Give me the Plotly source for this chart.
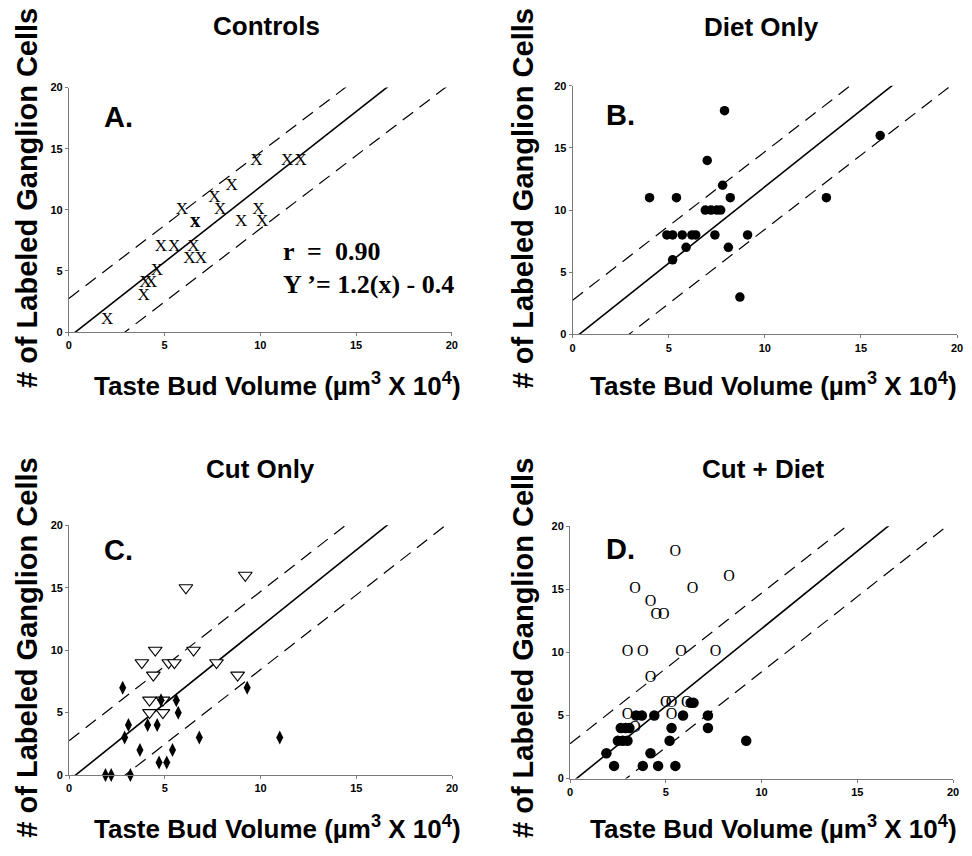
import plotly.graph_objects as go

# ---------------- data ----------------
# Panel A: Controls
a_x = [2.0, 3.9, 4.0, 4.3, 4.6, 4.8, 5.5, 6.5, 6.3, 6.9, 5.9, 7.6, 7.9, 8.5, 9.8, 11.4, 12.1, 9.0, 9.9, 10.1]
a_y = [1, 3, 4, 4, 5, 7, 7, 7, 6, 6, 10, 11, 10, 12, 14, 14, 14, 9, 10, 9]
a_bold_x = [6.6]
a_bold_y = [9]

# Panel B: Diet Only
b_x = [7.9, 7.0, 7.8, 4.0, 5.4, 8.2, 6.9, 7.2, 7.5, 7.7, 4.9, 5.2, 5.7, 6.2, 6.4, 7.4, 9.1,
       5.9, 8.1, 5.2, 8.7, 13.2, 16.0]
b_y = [18, 14, 12, 11, 11, 11, 10, 10, 10, 10, 8, 8, 8, 8, 8, 8, 8, 7, 7, 6, 3, 11, 16]

# Panel C: Cut Only
c_tri_x = [9.2, 6.1, 4.5, 6.5, 3.8, 5.2, 5.5, 7.7, 4.4, 8.8, 4.2, 4.9, 4.2, 4.9]
c_tri_y = [16, 15, 10, 10, 9, 9, 9, 9, 8, 8, 6, 6, 5, 5]
c_dia_x = [2.8, 9.3, 4.8, 5.6, 5.7, 3.1, 4.1, 4.6, 2.9, 6.8, 11.0, 3.7, 5.4, 4.7, 5.1, 1.9, 2.2, 3.2]
c_dia_y = [7, 7, 6, 6, 5, 4, 4, 4, 3, 3, 3, 2, 2, 1, 1, 0, 0, 0]

# Panel D: Cut + Diet
d_open_x = [5.5, 8.3, 3.4, 6.4, 4.2, 4.5, 4.9, 3.0, 3.8, 5.8, 7.6, 4.2, 5.0, 5.3, 6.1, 3.0, 5.3, 3.4]
d_open_y = [18, 16, 15, 15, 14, 13, 13, 10, 10, 10, 10, 8, 6, 6, 6, 5, 5, 4]
d_fill_x = [6.3, 6.45, 3.45, 3.75, 4.4, 5.9, 7.2, 2.65, 2.9, 3.1, 5.3, 7.2, 2.5, 2.75, 3.0, 5.2,
            9.2, 1.9, 4.2, 2.3, 3.8, 4.6, 5.5]
d_fill_y = [6, 6, 5, 5, 5, 5, 5, 4, 4, 4, 4, 4, 3, 3, 3, 3, 3, 2, 2, 1, 1, 1, 1]

# regression line and prediction band (Y' = 1.2(x) - 0.4)
line_x = [0, 20]
solid_slope, solid_int = 1.23, -0.42
band_slope, upper_int, lower_int = 1.195, 2.75, -3.5

panel_titles = ["Controls", "Diet Only", "Cut Only", "Cut + Diet"]
panel_letters = ["A.", "B.", "C.", "D."]
tick_vals = [0, 5, 10, 15, 20]
x_title = "Taste Bud Volume (µm<sup>3</sup> X 10<sup>4</sup>)"
y_title = "# of Labeled Ganglion Cells"

SANS = "Liberation Sans, Arial, Helvetica, sans-serif"
SERIF = "Liberation Serif, Times New Roman, serif"

fig = go.Figure()

axes = [("x", "y"), ("x2", "y2"), ("x3", "y3"), ("x4", "y4")]

# lines in each panel
for xa, ya in axes:
    fig.add_trace(go.Scatter(x=line_x, y=[solid_slope * v + solid_int for v in line_x],
                             mode="lines", line=dict(color="black", width=1.6),
                             xaxis=xa, yaxis=ya, hoverinfo="skip"))
    for b in (upper_int, lower_int):
        fig.add_trace(go.Scatter(x=line_x, y=[band_slope * v + b for v in line_x],
                                 mode="lines", line=dict(color="black", width=1.2, dash="13px,8px"),
                                 xaxis=xa, yaxis=ya, hoverinfo="skip"))

# Panel A markers (X glyphs)
fig.add_trace(go.Scatter(x=a_x, y=a_y, mode="text", text=["X"] * len(a_x),
                         textfont=dict(family=SERIF, size=17, color="black"),
                         xaxis="x", yaxis="y", cliponaxis=False))
fig.add_trace(go.Scatter(x=a_bold_x, y=a_bold_y, mode="text", text=["x"],
                         textfont=dict(family=SERIF, size=21, color="black", weight="bold"),
                         xaxis="x", yaxis="y", cliponaxis=False))

# Panel B markers
fig.add_trace(go.Scatter(x=b_x, y=b_y, mode="markers",
                         marker=dict(symbol="circle", size=9.5, color="black"),
                         xaxis="x2", yaxis="y2", cliponaxis=False))

# Panel C markers
fig.add_trace(go.Scatter(x=c_tri_x, y=c_tri_y, mode="markers",
                         marker=dict(symbol="triangle-down", size=12, color="white",
                                     line=dict(color="black", width=1.1)),
                         xaxis="x3", yaxis="y3", cliponaxis=False))
fig.add_trace(go.Scatter(x=c_dia_x, y=c_dia_y, mode="markers",
                         marker=dict(symbol="diamond-tall", size=10, color="black"),
                         xaxis="x3", yaxis="y3", cliponaxis=False))

# Panel D markers
fig.add_trace(go.Scatter(x=d_open_x, y=d_open_y, mode="text", text=["O"] * len(d_open_x),
                         textfont=dict(family=SERIF, size=16, color="black"),
                         xaxis="x4", yaxis="y4", cliponaxis=False))
fig.add_trace(go.Scatter(x=d_fill_x, y=d_fill_y, mode="markers",
                         marker=dict(symbol="circle", size=10.5, color="black"),
                         xaxis="x4", yaxis="y4", cliponaxis=False))

W, H = 972, 856
domains = [
    ((66.5, 453.0), (82.7, 330.7)),
    ((575.0, 963.0), (81.0, 333.0)),
    ((66.7, 453.3), (526.7, 780.0)),
    ((572.3, 959.0), (527.7, 783.5)),
]

axis_common = dict(range=[0, 20], tickvals=tick_vals, showgrid=False, zeroline=False,
                   showline=True, linecolor="#7a7a7a", linewidth=1, ticks="outside",
                   ticklen=3, tickcolor="#7a7a7a",
                   tickfont=dict(family=SANS, size=11, color="black", weight="bold"))

layout = dict(width=W, height=H, margin=dict(l=0, r=0, t=0, b=0),
              paper_bgcolor="white", plot_bgcolor="white", showlegend=False)
for i, ((x0, x1), (y0, y1)) in enumerate(domains):
    sfx = "" if i == 0 else str(i + 1)
    layout["xaxis" + sfx] = dict(axis_common, domain=[x0 / W, x1 / W],
                                 anchor="y" + sfx)
    layout["yaxis" + sfx] = dict(axis_common, domain=[1 - y1 / H, 1 - y0 / H],
                                 anchor="x" + sfx)
fig.update_layout(**layout)

ann = []
title_pos = [(266, 20), (766, 21), (260, 470), (767, 470)]
for t, (px, py) in zip(panel_titles, title_pos):
    ann.append(dict(text=t, x=px / W, y=1 - py / H, xref="paper", yref="paper",
                    xanchor="center", yanchor="middle", showarrow=False,
                    font=dict(family=SANS, size=26, color="black", weight="bold")))

letter_pos = [(100, 113), (607, 111), (100, 552), (607, 551)]
for t, (px, py) in zip(panel_letters, letter_pos):
    ann.append(dict(text=t, x=px / W, y=1 - py / H, xref="paper", yref="paper",
                    xanchor="left", yanchor="middle", showarrow=False,
                    font=dict(family=SANS, size=29, color="black", weight="bold")))

xt_pos = [(277, 384), (778, 384), (277, 833), (778, 833)]
for px, py in xt_pos:
    ann.append(dict(text=x_title, x=px / W, y=1 - py / H, xref="paper", yref="paper",
                    xanchor="center", yanchor="middle", showarrow=False,
                    font=dict(family=SANS, size=26, color="black", weight="bold")))

yt_pos = [(24, 195), (525, 195), (24, 651), (525, 651)]
for px, py in yt_pos:
    ann.append(dict(text=y_title, x=px / W, y=1 - py / H, xref="paper", yref="paper",
                    xanchor="center", yanchor="middle", showarrow=False, textangle=-90,
                    font=dict(family=SANS, size=29, color="black", weight="bold")))

# statistics text in panel A
ann.append(dict(text="r  =  0.90", x=11.1, y=6.6, xref="x", yref="y", xanchor="left",
                yanchor="middle", showarrow=False,
                font=dict(family=SERIF, size=26, color="black", weight="bold")))
ann.append(dict(text="Y ’= 1.2(x) - 0.4", x=11.1, y=3.9, xref="x", yref="y", xanchor="left",
                yanchor="middle", showarrow=False,
                font=dict(family=SERIF, size=26, color="black", weight="bold")))

fig.update_layout(annotations=ann)
fig.write_html("out.html", config={"displayModeBar": False},
               post_script="document.body.style.margin='0';")
